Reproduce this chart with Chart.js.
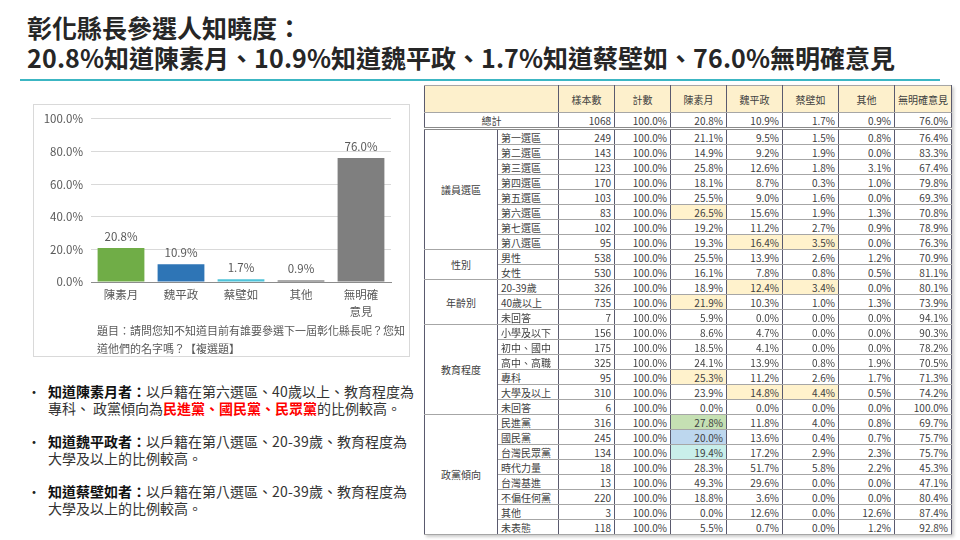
<!doctype html>
<html lang="zh-Hant">
<head>
<meta charset="utf-8">
<style>
  @font-face { font-family:"CJKTight"; font-weight:400;
    src: local("Noto Sans CJK TC Regular"), local("NotoSansCJKtc-Regular"), local("Noto Sans CJK TC");
    ascent-override:93.6%; descent-override:6.4%; line-gap-override:0%; }
  @font-face { font-family:"CJKTight"; font-weight:700;
    src: local("Noto Sans CJK TC Bold"), local("NotoSansCJKtc-Bold");
    ascent-override:93.6%; descent-override:6.4%; line-gap-override:0%; }
  html, body { margin:0; padding:0; width:960px; height:540px; background:#fff; overflow:hidden;
    font-family:"Noto Sans CJK TC", "Noto Sans", sans-serif; color:#333; }
  #title { position:absolute; left:27px; top:13px; font-family:"CJKTight", "Noto Sans CJK TC", sans-serif;
    font-size:25px; font-weight:bold; line-height:30px; color:#262626; white-space:nowrap; }
  #rule { position:absolute; left:20px; top:79px; width:920px; height:2px; background:#3cb6c3; }
  #chartBox { position:absolute; left:33px; top:104px; width:377px; height:253px; border:1px solid #d9d9d9; box-sizing:border-box; }
  #chartWrap { position:absolute; left:33px; top:104px; width:377px; height:220px; }
  #question { position:absolute; left:97px; top:321px; font-size:11px; line-height:18px; color:#595959; white-space:nowrap; }
  .para { position:absolute; left:48px; font-family:"CJKTight", "Noto Sans CJK TC", sans-serif;
    font-size:14px; line-height:17px; color:#333; white-space:nowrap; }
  .para::before { content:"•"; position:absolute; left:-21px; top:0; color:#222; }
  .para b { color:#111; }
  .para .red { color:#f00; font-weight:bold; }
  #tbl { position:absolute; left:424px; top:85px; border-collapse:collapse; table-layout:fixed;
    font-size:10px; color:#404040; box-shadow:2px 2px 3px #ccc; }
  #tbl td { border-left:1px solid #5a5a6e; border-right:1px solid #5a5a6e; border-top:1px solid #a6a6a6; border-bottom:1px solid #a6a6a6;
    padding:0 3px; height:14px; line-height:13px; white-space:nowrap; overflow:hidden; }
  #tbl tr.head td { height:26px; background:#fdf0cc; text-align:center; }
  #tbl td.num { text-align:right; }
  #tbl td.grp { text-align:center; }
  #tbl td.sub { text-align:left; }
  #tbl tr.first td { border-top:3px double #8a8a8a; }
</style>
</head>
<body>

<div id="title">彰化縣長參選人知曉度：<br>20.8%知道陳素月、10.9%知道魏平政、1.7%知道蔡壁如、76.0%無明確意見</div>
<div id="rule"></div>

<div id="chartBox"></div>
<div id="chartWrap"><canvas id="myChart"></canvas></div>
<div id="question">題目：請問您知不知道目前有誰要參選下一屆彰化縣長呢？您知<br>道他們的名字嗎？【複選題】</div>

<div class="para" style="top:383px"><b>知道陳素月者：</b>以戶籍在第六選區、40歲以上、教育程度為<br>專科、 政黨傾向為<span class="red">民進黨、國民黨、民眾黨</span>的比例較高。</div>
<div class="para" style="top:433px"><b>知道魏平政者：</b>以戶籍在第八選區、20-39歲、教育程度為<br>大學及以上的比例較高。</div>
<div class="para" style="top:483px"><b>知道蔡壁如者：</b>以戶籍在第八選區、20-39歲、教育程度為<br>大學及以上的比例較高。</div>

<table id="tbl"></table>

<script src="https://cdn.jsdelivr.net/npm/chart.js@4.4.0/dist/chart.umd.min.js"></script>
<script>
    // 長條圖資料
    const categories = ['陳素月', '魏平政', '蔡壁如', '其他', ['無明確', '意見']]
    const shares = [20.8, 10.9, 1.7, 0.9, 76.0]
    const barColors = ['#70ad47', '#2e75b6', '#4fc3d9', '#595959', '#7f7f7f']
    const yTicks = [0, 20, 40, 60, 80, 100]

    // 交叉表資料
    const tableHeaders = ['樣本數', '計數', '陳素月', '魏平政', '蔡壁如', '其他', '無明確意見']
    const colWidths = [73, 61, 56, 56, 56, 56, 56, 56, 56]
    const totalRow = [1068, 20.8, 10.9, 1.7, 0.9, 76.0]
    const groupNames = ['議員選區', '性別', '年齡別', '教育程度', '政黨傾向']
    const groupSizes = [8, 2, 3, 6, 8]
    const rowLabels = ['第一選區', '第二選區', '第三選區', '第四選區', '第五選區', '第六選區', '第七選區', '第八選區',
        '男性', '女性',
        '20-39歲', '40歲以上', '未回答',
        '小學及以下', '初中、國中', '高中、高職', '專科', '大學及以上', '未回答',
        '民進黨', '國民黨', '台灣民眾黨', '時代力量', '台灣基進', '不偏任何黨', '其他', '未表態']
    const rowCounts = [249, 143, 123, 170, 103, 83, 102, 95,
        538, 530,
        326, 735, 7,
        156, 175, 325, 95, 310, 6,
        316, 245, 134, 18, 13, 220, 3, 118]
    // 陳素月, 魏平政, 蔡壁如, 其他, 無明確意見
    const rowShares = [
        [21.1, 9.5, 1.5, 0.8, 76.4],
        [14.9, 9.2, 1.9, 0.0, 83.3],
        [25.8, 12.6, 1.8, 3.1, 67.4],
        [18.1, 8.7, 0.3, 1.0, 79.8],
        [25.5, 9.0, 1.6, 0.0, 69.3],
        [26.5, 15.6, 1.9, 1.3, 70.8],
        [19.2, 11.2, 2.7, 0.9, 78.9],
        [19.3, 16.4, 3.5, 0.0, 76.3],
        [25.5, 13.9, 2.6, 1.2, 70.9],
        [16.1, 7.8, 0.8, 0.5, 81.1],
        [18.9, 12.4, 3.4, 0.0, 80.1],
        [21.9, 10.3, 1.0, 1.3, 73.9],
        [5.9, 0.0, 0.0, 0.0, 94.1],
        [8.6, 4.7, 0.0, 0.0, 90.3],
        [18.5, 4.1, 0.0, 0.0, 78.2],
        [24.1, 13.9, 0.8, 1.9, 70.5],
        [25.3, 11.2, 2.6, 1.7, 71.3],
        [23.9, 14.8, 4.4, 0.5, 74.2],
        [0.0, 0.0, 0.0, 0.0, 100.0],
        [27.8, 11.8, 4.0, 0.8, 69.7],
        [20.0, 13.6, 0.4, 0.7, 75.7],
        [19.4, 17.2, 2.9, 2.3, 75.7],
        [28.3, 51.7, 5.8, 2.2, 45.3],
        [49.3, 29.6, 0.0, 0.0, 47.1],
        [18.8, 3.6, 0.0, 0.0, 80.4],
        [0.0, 12.6, 0.0, 12.6, 87.4],
        [5.5, 0.7, 0.0, 1.2, 92.8]
    ]
    // 列-欄 : 底色
    const highlights = {
        '5-0': '#fff2cc', '7-1': '#fff2cc', '7-2': '#fff2cc',
        '10-1': '#fff2cc', '10-2': '#fff2cc', '11-0': '#fff2cc',
        '16-0': '#fff2cc', '17-1': '#fff2cc', '17-2': '#fff2cc',
        '19-0': '#c5e0b3', '20-0': '#bdd7ee', '21-0': '#c9efea'
    }

    // 建表
    function buildTable() {
        const pct = v => v.toFixed(1) + '%'
        let html = '<colgroup>' + colWidths.map(w => `<col style="width:${w}px">`).join('') + '</colgroup>'
        html += '<tr class="head"><td colspan="2"></td>' + tableHeaders.map(h => `<td>${h}</td>`).join('') + '</tr>'
        html += `<tr><td colspan="2" class="grp">總計</td><td class="num">${totalRow[0]}</td><td class="num">100.0%</td>`
            + totalRow.slice(1).map(v => `<td class="num">${pct(v)}</td>`).join('') + '</tr>'
        let r = 0
        groupNames.forEach((g, gi) => {
            for (let k = 0; k < groupSizes[gi]; k++) {
                html += `<tr${(r === 0) ? ' class="first"' : ''}>`
                if (k === 0) html += `<td rowspan="${groupSizes[gi]}" class="grp">${g}</td>`
                html += `<td class="sub">${rowLabels[r]}</td><td class="num">${rowCounts[r]}</td><td class="num">100.0%</td>`
                rowShares[r].forEach((v, c) => {
                    const bg = highlights[r + '-' + c]
                    html += `<td class="num"${bg ? ` style="background:${bg}"` : ''}>${pct(v)}</td>`
                })
                html += '</tr>'
                r++
            }
        })
        document.getElementById('tbl').innerHTML = html
    }
    buildTable()

    // 數值標籤
    const valueLabels = {
        id: 'valueLabels',
        afterDatasetsDraw(chart) {
            const ctx = chart.ctx
            const meta = chart.getDatasetMeta(0)
            ctx.save()
            ctx.font = '11.5px "Noto Sans CJK TC"'
            ctx.fillStyle = '#595959'
            ctx.textAlign = 'center'
            ctx.textBaseline = 'bottom'
            meta.data.forEach((bar, i) => {
                ctx.fillText(shares[i].toFixed(1) + '%', bar.x, bar.y - 6)
            })
            ctx.restore()
        }
    }

    Chart.defaults.font.family = '"Noto Sans CJK TC", sans-serif'
    Chart.defaults.color = '#595959'

    var ctx = document.getElementById('myChart')
    var myChart = new Chart(ctx, {
        type: 'bar',
        data: {
            labels: categories,
            datasets: [{
                data: shares,
                backgroundColor: barColors,
                borderWidth: 0,
                barPercentage: 0.78,
                categoryPercentage: 1.0
            }]
        },
        options: {
            responsive: true,
            maintainAspectRatio: false,
            animation: false,
            layout: { padding: { top: 13, right: 19, bottom: 0, left: 0 } },
            plugins: { legend: { display: false }, tooltip: { enabled: false } },
            scales: {
                x: {
                    grid: { display: false, drawTicks: false },
                    border: { display: true, color: '#8c8c8c', width: 1 },
                    ticks: { padding: 4, font: { size: 11.5, lineHeight: 1.5 }, color: '#595959', maxRotation: 0 },
                    afterFit(scale) { scale.height = 42 }
                },
                y: {
                    min: 0,
                    max: 100,
                    afterBuildTicks(scale) { scale.ticks = yTicks.map(v => ({ value: v })) },
                    grid: { color: '#d9d9d9', drawTicks: false },
                    border: { display: false },
                    ticks: { padding: 8, font: { size: 11.5 }, color: '#595959', callback: v => v.toFixed(1) + '%' },
                    afterFit(scale) { scale.width = 58 }
                }
            }
        },
        plugins: [valueLabels]
    })
</script>
</body>
</html>
